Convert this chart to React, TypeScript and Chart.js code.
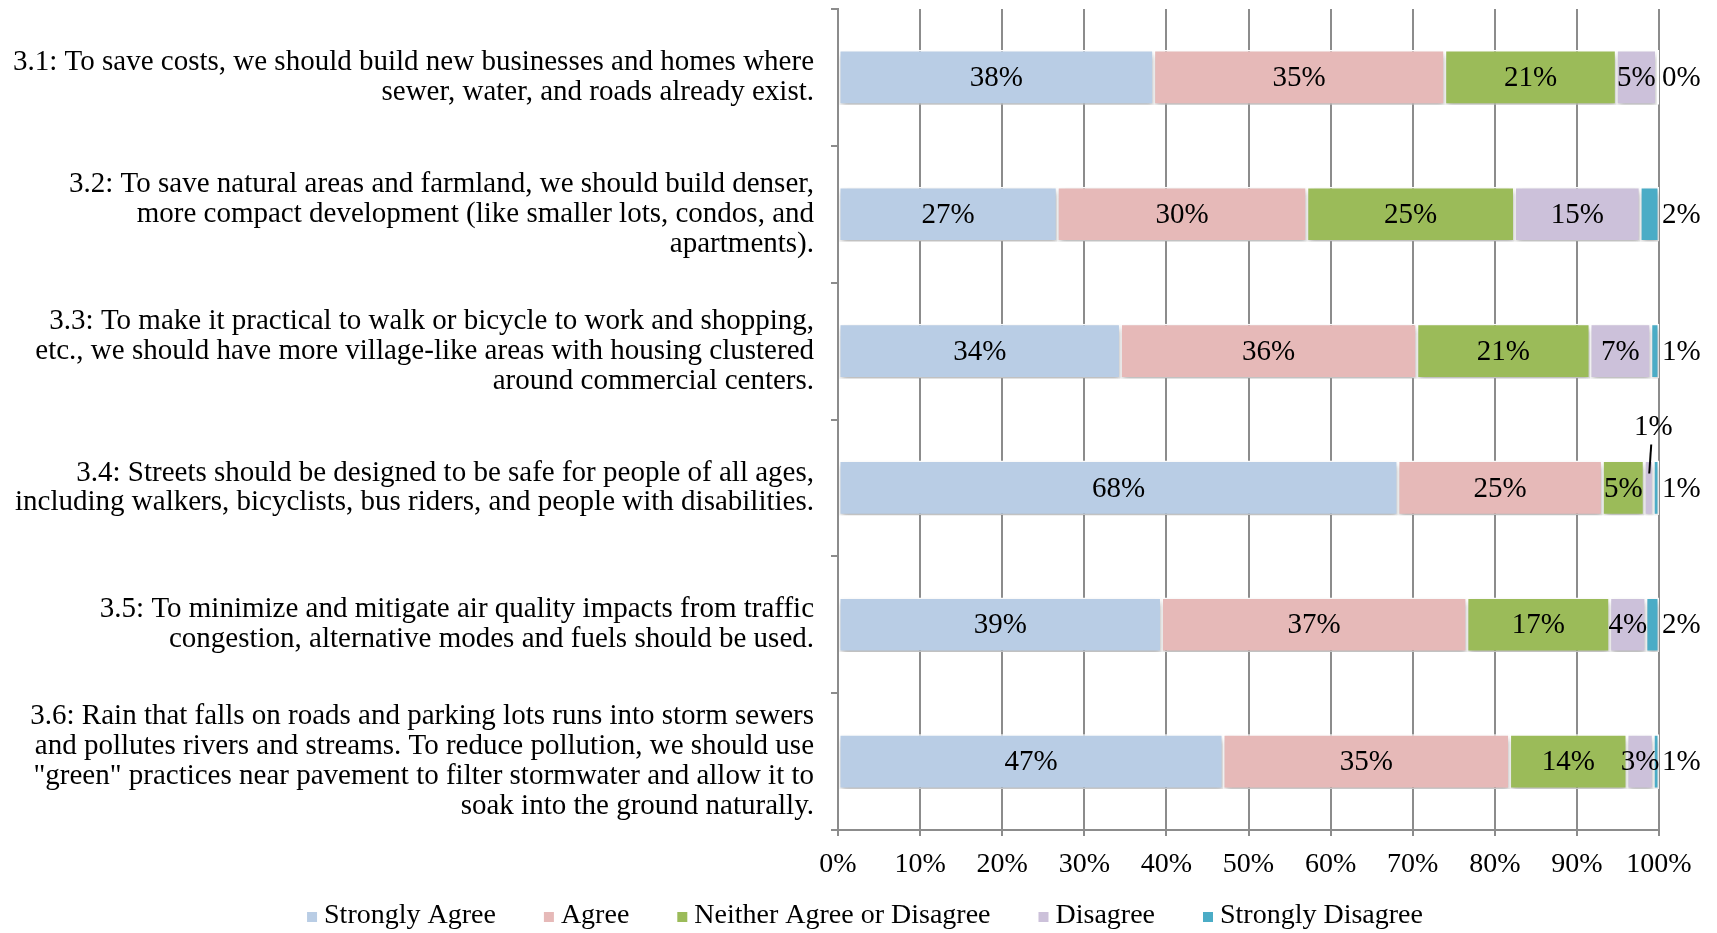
import React, { useEffect, useRef } from "react";
import { Chart, registerables } from "chart.js";

Chart.register(...registerables);

const FONT = '"Liberation Serif", "DejaVu Serif", serif';

const categories: string[][] = [
  ["3.1: To save costs, we should build new businesses and homes where", "sewer, water, and roads already exist."],
  ["3.2: To save natural areas and farmland, we should build denser,", "more compact development (like smaller lots, condos, and", "apartments)."],
  ["3.3: To make it practical to walk or bicycle to work and shopping,", "etc., we should have more village-like areas with housing clustered", "around commercial centers."],
  ["3.4: Streets should be designed to be safe for people of all ages,", "including walkers, bicyclists, bus riders, and people with disabilities."],
  ["3.5: To minimize and mitigate air quality impacts from traffic", "congestion, alternative modes and fuels should be used."],
  ["3.6: Rain that falls on roads and parking lots runs into storm sewers", "and pollutes rivers and streams. To reduce pollution, we should use", "\"green\" practices near pavement to filter stormwater and allow it to", "soak into the ground naturally."],
];

const seriesNames = ["Strongly Agree", "Agree", "Neither Agree or Disagree", "Disagree", "Strongly Disagree"];
const seriesColors = ["#B9CDE5", "#E6B9B8", "#9BBB59", "#CCC1DA", "#4BACC6"];

const stronglyAgree = [38.45, 26.7, 34.4, 68.2, 39.4, 46.9];
const agree = [35.45, 30.4, 36.1, 24.9, 37.2, 34.9];
const neither = [20.9, 25.3, 21.1, 5.1, 17.4, 14.3];
const disagree = [4.9, 15.3, 7.4, 1.1, 4.4, 3.2];
const stronglyDisagree = [0.3, 2.3, 1.0, 0.7, 1.6, 0.7];

const xTicks = [0, 10, 20, 30, 40, 50, 60, 70, 80, 90, 100];

const GRID = "#8c8c8c";

const barPlugin = {
  id: "shadowAndLabels",
  beforeDatasetsDraw(chart: any) {
    const ctx = chart.ctx;
    ctx.save();
    ctx.shadowColor = "rgba(0,0,0,0.28)";
    ctx.shadowBlur = 6;
    ctx.shadowOffsetX = 1;
    ctx.shadowOffsetY = 4;
  },
  afterDatasetsDraw(chart: any) {
    const ctx = chart.ctx;
    ctx.restore();
    ctx.save();
    ctx.font = `29px ${FONT}`;
    ctx.fillStyle = "#000";
    ctx.strokeStyle = "#000";
    ctx.textBaseline = "middle";
    const last = chart.data.datasets.length - 1;
    chart.data.datasets.forEach((ds: any, di: number) => {
      const meta = chart.getDatasetMeta(di);
      meta.data.forEach((el: any, i: number) => {
        const v = ds.data[i] as number;
        const text = Math.round(v) + "%";
        const p = el.getProps(["x", "y", "base", "height"], true);
        const left = Math.min(p.x, p.base);
        const right = Math.max(p.x, p.base);
        const cx = (left + right) / 2;
        const top = p.y - p.height / 2;
        if (di === last) {
          ctx.textAlign = "left";
          ctx.fillText(text, right + 3, p.y + 1);
        } else if (v < 2) {
          ctx.lineWidth = 2;
          ctx.beginPath();
          ctx.moveTo(cx + 0.5, top + 13);
          ctx.lineTo(cx + 2.5, top - 16);
          ctx.stroke();
          ctx.textAlign = "center";
          ctx.fillText(text, cx + 4.5, top - 33);
        } else {
          ctx.textAlign = "center";
          ctx.fillText(text, cx, p.y + 1);
        }
      });
    });
    ctx.restore();
  },
  afterDraw(chart: any) {
    const ctx = chart.ctx;
    ctx.save();
    ctx.font = `28px ${FONT}`;
    ctx.textBaseline = "middle";
    ctx.textAlign = "left";
    const box = 10;
    const gap = 7;
    const spacing = 48;
    const widths = seriesNames.map((n) => box + gap + ctx.measureText(n).width);
    const total = widths.reduce((a, b) => a + b, 0) + spacing * (widths.length - 1);
    let x = 857 - total / 2;
    const y = 908;
    seriesNames.forEach((n, i) => {
      ctx.fillStyle = seriesColors[i];
      ctx.fillRect(x, y - box / 2 + 1, box, box);
      ctx.fillStyle = "#000";
      ctx.fillText(n, x + box + gap, y);
      x += widths[i] + spacing;
    });
    ctx.restore();
  },
};

export default function App() {
  const ref = useRef<HTMLCanvasElement>(null);
  useEffect(() => {
    const prevMargin = document.body.style.marginBottom;
    document.body.style.marginBottom = "0px";
    const values = [stronglyAgree, agree, neither, disagree, stronglyDisagree];
    const chart = new Chart(ref.current!, {
      type: "bar",
      data: {
        labels: categories as any,
        datasets: values.map((d, i) => ({
          label: seriesNames[i],
          data: d,
          backgroundColor: seriesColors[i],
          borderColor: "#ffffff",
          borderWidth: 1.5,
          borderSkipped: false,
          categoryPercentage: 1,
          barPercentage: 0.4,
        })),
      },
      options: {
        indexAxis: "y",
        animation: false,
        responsive: true,
        maintainAspectRatio: false,
        layout: { padding: { top: 1, right: 50, left: 0, bottom: 53 } },
        plugins: {
          legend: { display: false },
          tooltip: { enabled: false },
        },
        scales: {
          x: {
            stacked: true,
            min: 0,
            max: 100,
            afterBuildTicks: (scale: any) => {
              scale.ticks = xTicks.map((v) => ({ value: v }));
            },
            afterFit: (scale: any) => {
              scale.height = 50;
              scale.paddingLeft = 0;
              scale.paddingRight = 0;
            },
            ticks: {
              callback: (v: any) => v + "%",
              color: "#000",
              font: { family: FONT, size: 28 },
              padding: 12,
              maxRotation: 0,
              autoSkip: false,
            },
            grid: {
              color: GRID,
              lineWidth: 2,
              drawTicks: true,
              tickLength: 6,
              tickColor: GRID,
            },
            border: { display: true, color: GRID, width: 2 },
          },
          y: {
            stacked: true,
            afterFit: (scale: any) => {
              scale.width = 830;
              scale.paddingTop = 0;
              scale.paddingBottom = 0;
            },
            ticks: {
              color: "#000",
              font: { family: FONT, size: 29, lineHeight: 1.03 },
              padding: 17,
              autoSkip: false,
            },
            grid: {
              offset: true,
              drawOnChartArea: false,
              drawTicks: true,
              tickLength: 7,
              color: GRID,
              lineWidth: 2,
            },
            border: { display: true, color: GRID, width: 2 },
          },
        },
      },
      plugins: [barPlugin],
    });
    return () => {
      chart.destroy();
      document.body.style.marginBottom = prevMargin;
    };
  }, []);
  return (
    <div style={{ width: 1701, height: 925, position: "relative" }}>
      <canvas ref={ref} />
    </div>
  );
}
